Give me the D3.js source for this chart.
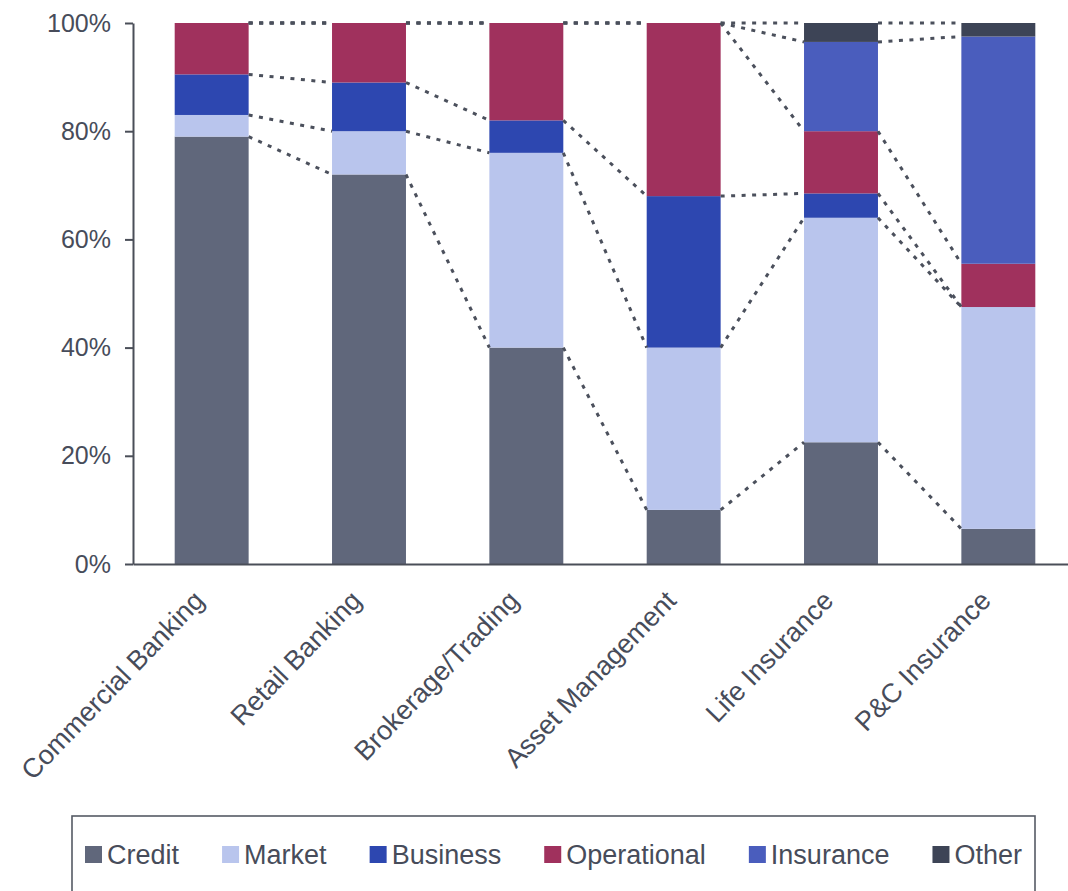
<!DOCTYPE html>
<html>
<head>
<meta charset="utf-8">
<script src="https://cdn.jsdelivr.net/npm/d3@7"></script>
<style>
  html, body { margin: 0; padding: 0; background: #ffffff; }
  svg { display: block; }
  text { font-family: "Liberation Sans", Arial, sans-serif; }
</style>
</head>
<body>
<svg id="chart" width="1068" height="891"></svg>
<script>
// Business lines (one stacked bar each)
const categories = ["Commercial Banking", "Retail Banking", "Brokerage/Trading",
                    "Asset Management", "Life Insurance", "P&C Insurance"];

// Risk types, stacked bottom to top
const seriesNames = ["Credit", "Market", "Business", "Operational", "Insurance", "Other"];

// Share of economic capital by risk type (%)
const credit      = [79,   72, 40, 10, 22.5, 6.5];
const market      = [4,     8, 36, 30, 41.5, 41];
const business    = [7.5,   9,  6, 28, 4.5,  0];
const operational = [9.5,  11, 18, 32, 11.5, 8];
const insurance   = [0,     0,  0,  0, 16.5, 42];
const other       = [0,     0,  0,  0, 3.5,  2.5];

const yTicks = [0, 20, 40, 60, 80, 100];

const colors = {
  Credit: "#60677b",
  Market: "#b9c5ed",
  Business: "#2d47b0",
  Operational: "#a0315d",
  Insurance: "#4a5dbd",
  Other: "#3d4456"
};

const seriesValues = [credit, market, business, operational, insurance, other];
const table = categories.map((c, i) => {
  const row = { category: c };
  seriesNames.forEach((s, k) => { row[s] = seriesValues[k][i]; });
  return row;
});

const svg = d3.select("#chart");

const plot = { left: 133, top: 23, bottom: 564, right: 1077 };

const x = d3.scaleBand()
  .domain(categories)
  .range([plot.left, plot.right])
  .paddingInner(0.53)
  .paddingOuter(0.265);

const y = d3.scaleLinear()
  .domain([0, 100])
  .range([plot.bottom, plot.top]);

const stacked = d3.stack().keys(seriesNames)(table);

// Stacked bars
const layers = svg.append("g").attr("class", "bars")
  .selectAll("g")
  .data(stacked)
  .join("g")
  .attr("fill", d => colors[d.key]);

layers.selectAll("rect")
  .data(d => d)
  .join("rect")
  .attr("x", d => x(d.data.category))
  .attr("width", x.bandwidth())
  .attr("y", d => y(d[1]))
  .attr("height", d => Math.max(0, y(d[0]) - y(d[1])));

// Dotted series lines joining the top of each segment between neighbouring bars
const connectors = [];
stacked.forEach(layer => {
  for (let i = 0; i < layer.length - 1; i++) {
    const a = layer[i], b = layer[i + 1];
    connectors.push({
      x1: x(a.data.category) + x.bandwidth(),
      y1: y(a[1]),
      x2: x(b.data.category),
      y2: y(b[1])
    });
  }
});

svg.append("g").attr("class", "series-lines")
  .selectAll("line")
  .data(connectors)
  .join("line")
  .attr("x1", d => d.x1).attr("y1", d => d.y1)
  .attr("x2", d => d.x2).attr("y2", d => d.y2)
  .attr("stroke", "#4b505c")
  .attr("stroke-width", 3)
  .attr("stroke-dasharray", "4,6.5")
  .attr("stroke-linecap", "butt");

// Y axis
const yAxis = svg.append("g")
  .attr("transform", `translate(${plot.left},0)`)
  .call(d3.axisLeft(y)
    .tickValues(yTicks)
    .tickFormat(d => d + "%")
    .tickSize(8)
    .tickSizeOuter(0)
    .tickPadding(14));
yAxis.select(".domain").attr("stroke", "#4a4e58").attr("stroke-width", 2);
yAxis.selectAll(".tick line").attr("stroke", "#4a4e58").attr("stroke-width", 2);
yAxis.selectAll(".tick text")
  .attr("fill", "#474c5a")
  .style("font-size", "25px");

// X axis
const xAxis = svg.append("g")
  .attr("transform", `translate(0,${plot.bottom})`)
  .call(d3.axisBottom(x).tickSize(0).tickSizeOuter(0));
xAxis.select(".domain").attr("stroke", "#4a4e58").attr("stroke-width", 2.2);
xAxis.selectAll(".tick text")
  .attr("x", 0).attr("y", 0).attr("dy", 0)
  .attr("text-anchor", "end")
  .attr("transform", "translate(-6,38) rotate(-46)")
  .attr("fill", "#474c5a")
  .style("font-size", "27px");

// Legend
const legend = svg.append("g").attr("class", "legend");
legend.append("rect")
  .attr("x", 72).attr("y", 816)
  .attr("width", 963).attr("height", 90)
  .attr("fill", "none")
  .attr("stroke", "#555a64")
  .attr("stroke-width", 1.6);

const legendStart = 85, legendEnd = 1022, swatch = 17, swatchGap = 5;
const items = seriesNames.map(name => {
  const g = legend.append("g");
  g.append("rect")
    .attr("x", 0).attr("y", 846)
    .attr("width", swatch).attr("height", swatch)
    .attr("fill", colors[name]);
  const t = g.append("text")
    .attr("x", swatch + swatchGap).attr("y", 864)
    .attr("fill", "#474c5a")
    .style("font-size", "27px")
    .text(name);
  return { g, w: swatch + swatchGap + t.node().getComputedTextLength() };
});
const totalW = d3.sum(items, d => d.w);
const between = (legendEnd - legendStart - totalW) / (items.length - 1);
let lx = legendStart;
items.forEach(it => {
  it.g.attr("transform", `translate(${lx},0)`);
  lx += it.w + between;
});
</script>
</body>
</html>
